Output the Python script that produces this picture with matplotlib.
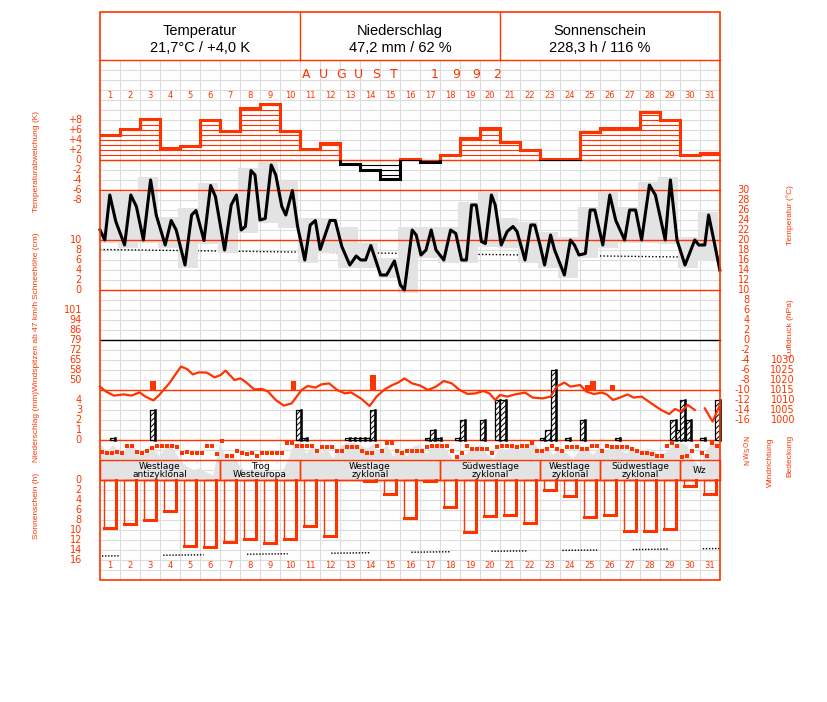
import numpy as np
import matplotlib
matplotlib.use('Agg')
import matplotlib.pyplot as plt
from matplotlib.patches import Rectangle
from matplotlib.transforms import blended_transform_factory

RED = '#ff3300'
GRID = '#dcdcdc'
SHADE = '#e3e3e3'

# ---------------- data (August 1992) ----------------
days = list(range(1, 32))

# daily temperature deviation (K)
temp_dev = [5.0, 6.2, 8.3, 2.5, 2.9, 8.1, 5.9, 10.5, 11.3, 5.8, 2.2, 3.5, -0.7, -2.0, -3.7, 0.3,
            -0.3, 1.1, 4.4, 6.4, 3.6, 2.1, 0.3, 0.3, 5.7, 6.5, 6.5, 9.6, 8.1, 1.1, 1.5]

# temperature course (time in days since 1 Aug 0h, degC)
temp_t = [0.00, 0.24, 0.49, 0.79, 1.23, 1.54, 1.82, 2.17, 2.53, 2.81, 3.26, 3.56, 3.81, 4.25, 4.58,
          4.80, 5.20, 5.53, 5.77, 6.23, 6.56, 6.82, 7.06, 7.27, 7.55, 7.75, 8.00, 8.26, 8.56, 8.79,
          9.09, 9.29, 9.62, 9.88, 10.24, 10.51, 10.77, 11.01, 11.50, 11.76, 12.09, 12.49, 12.81,
          13.04, 13.28, 13.54, 14.03, 14.33, 14.72, 15.02, 15.22, 15.61, 15.81, 16.05, 16.30, 16.56,
          16.80, 17.19, 17.53, 17.79, 18.08, 18.32, 18.58, 18.81, 19.07, 19.27, 19.57, 19.76, 20.06,
          20.36, 20.65, 20.85, 21.25, 21.54, 21.74, 22.00, 22.23, 22.53, 22.73, 23.22, 23.52, 23.72,
          23.95, 24.27, 24.51, 24.74, 25.14, 25.49, 25.79, 26.23, 26.48, 26.78, 27.08, 27.47, 27.77,
          28.26, 28.52, 28.85, 29.25, 29.74, 29.94, 30.24, 30.43, 30.69, 30.99]
temp_v = [22, 20, 29, 23.7, 19, 29, 26.7, 20, 32, 25, 19, 23.9, 22, 15, 25,
          25.9, 19.9, 30.9, 28.7, 18, 27, 29, 22, 22.7, 33.9, 33, 24, 24.3, 35, 33,
          26.7, 25, 29.9, 22.7, 16, 23, 23.9, 18.1, 23.9, 23.9, 18.7, 15, 16.8,
          16, 16, 18.9, 13, 13, 15.8, 11, 10, 22, 21, 17, 18, 22,
          18, 16, 22, 21.3, 16, 16, 27, 27, 19.7, 19.3, 29, 27, 19,
          21.7, 22.7, 21.7, 16, 23, 23, 19, 15, 21, 18, 13, 20, 19,
          17, 17.3, 26, 26, 19, 29, 23.9, 20, 26, 26, 20, 31, 29,
          20, 32, 20, 15, 20, 19, 19, 25, 20, 14]

# long-term mean temperature (dotted)
clim_t = [0, 31]
clim_v = [18.1, 16.5]

# air pressure (hPa), NaN = missing
pres_t = [0, 0.30, 0.69, 1.19, 1.58, 1.98, 2.27, 2.67, 2.96, 3.46, 3.75, 4.05, 4.35, 4.64, 4.94,
          5.34, 5.73, 6.03, 6.28, 6.72, 7.02, 7.31, 7.71, 8.10, 8.40, 8.79, 9.19, 9.58, 10.08,
          10.38, 10.77, 11.07, 11.46, 11.86, 12.25, 12.55, 13.04, 13.48, 13.83, 14.23, 14.62,
          14.92, 15.22, 15.61, 16.01, 16.40, 16.80, 17.19, 17.59, 17.98, 18.38, 18.77, 19.17,
          19.47, 19.76, 20.00, 20.36, 20.75, 21.25, 21.64, 22.13, 22.53, 22.83, 23.22, 23.52,
          24.01, 24.31, 24.70, 25.10, 25.34, 25.65, 25.99, 26.38, 26.68, 27.08, 27.57, 28.06,
          28.46, 28.75, 29.05, 29.39, 29.74, 29.90, 30.24, 30.63, 30.99]
pres_v = [1016.7, 1014.2, 1012.2, 1012.8, 1012.2, 1013.8, 1011.7, 1009.8, 1012.5, 1018.3, 1022.5,
          1026.7, 1025.5, 1022.8, 1023.8, 1023.7, 1021.3, 1022.5, 1024.7, 1020.0, 1020.8, 1018.8,
          1015.3, 1015.5, 1014.2, 1010.0, 1007.2, 1008.3, 1015.0, 1017.0, 1016.2, 1017.8, 1018.3,
          1015.0, 1013.3, 1013.8, 1010.8, 1007.0, 1011.7, 1015.3, 1017.5, 1018.8, 1020.8, 1018.3,
          1017.2, 1015.0, 1016.7, 1019.5, 1018.3, 1015.0, 1013.0, 1013.3, 1014.5, 1013.3, 1010.0,
          1012.5, 1011.7, 1012.8, 1013.7, 1011.2, 1010.8, 1011.7, 1016.7, 1018.7, 1016.7, 1017.5,
          1014.2, 1013.0, 1013.7, 1012.8, 1010.0, 1011.2, 1012.8, 1011.2, 1011.7, 1008.3, 1005.0,
          1003.0, 1005.5, 1004.2, 1007.5, 1005.0, np.nan, 1005.8, 999.2, 1007.5]

# wind gusts above 47 km/h (bar start in days, km/h)
gust_t = [2.51, 9.53, 13.50, 24.27, 24.51, 25.49]
gust_v = [50, 50, 54, 47, 50, 47]

# precipitation (bar start in days, mm)
rain_t = [0.49, 2.51, 9.78, 10.08, 12.25, 12.5, 12.75, 13.0, 13.25, 13.5, 16.25, 16.5, 16.78,
          17.75, 18.0, 19.0, 19.76, 20.02, 22.0, 22.27, 22.53, 23.26, 24.01, 25.75, 28.52,
          28.81, 29.01, 29.31, 30.0, 30.73]
rain_v = [0.2, 3.0, 3.0, 0.2, 0.2, 0.2, 0.2, 0.2, 0.2, 3.0, 0.2, 1.0, 0.2,
          0.2, 2.0, 2.0, 4.0, 4.0, 0.2, 1.0, 7.0, 0.2, 2.0, 0.2, 2.0,
          1.0, 4.0, 2.0, 0.2, 4.0]

# wind direction (deg), 4 obs per day
wind_dir = [205, 220, 220, 205, 220, 115, 115, 205, 220, 190, 155, 115, 115, 115, 115, 140,
            220, 205, 220, 220, 220, 115, 115, 240, 45, 265, 265, 190, 220, 240, 220, 265,
            220, 220, 220, 220, 220, 70, 70, 115, 115, 115, 115, 190, 140, 140, 140, 190,
            190, 140, 140, 140, 190, 220, 220, 115, 190, 70, 70, 190, 220, 190, 190,
            190, 190, 140, 115, 115, 115, 115, 190, 290, 220, 115, 165, 165, 165, 165, 220,
            140, 115, 115, 115, 140, 115, 115, 70, 190, 190, 165, 115, 165, 190, 140, 140,
            140, 165, 165, 115, 115, 190, 115, 140, 140, 140, 140, 165, 190, 220, 220, 240,
            265, 265, 115, 70, 115, 290, 265, 190, 115, 220, 265, 70, 115]

# cloud cover (octas), 3 obs per day
cloud = [7.4, 5.7, 7.0, 5.3, 6.3, 7.0, 4.7, 5.3, 6.3, 4.7, 7.0, 6.3, 4.0, 2.7, 2.0, 2.3, 1.5, 1.0,
         7.4, 4.0, 5.0, 2.7, 1.7, 2.3, 2.0, 2.0, 1.5, 1.0, 3.3, 7.0, 7.4, 5.3, 7.0, 5.3, 6.3, 4.3,
         6.7, 7.4, 7.4, 7.0, 6.3, 7.0, 5.3, 7.0, 4.7, 6.3, 4.7, 6.7,
         7.0, 5.3, 6.7, 7.4, 6.0, 4.0, 4.7, 5.3, 6.3, 7.0, 5.3, 4.3, 6.3, 6.0, 6.7, 6.0, 7.0, 7.4,
         6.0, 6.7, 5.0, 6.3, 5.3, 4.3, 6.0, 6.3, 5.0, 6.7, 5.7, 6.7, 6.0, 5.3, 6.7, 5.0, 6.3, 6.0,
         4.7, 5.7, 7.0, 7.4, 7.0, 4.0, 2.7, 6.0, 7.7, 7.4]

# large-scale weather types (label, first day edge, last day edge)
wx_types = [('Westlage\nantizyklonal', 0, 6), ('Trog\nWesteuropa', 6, 10),
            ('Westlage\nzyklonal', 10, 17), ('Südwestlage\nzyklonal', 17, 22),
            ('Westlage\nzyklonal', 22, 25), ('Südwestlage\nzyklonal', 25, 29), ('Wz', 29, 31)]

# daily sunshine duration (h)
sun_h = [9.5, 8.8, 8.0, 6.2, 13.1, 13.3, 12.3, 11.7, 12.6, 11.7, 9.2, 11.2, 0.0, 0.2, 2.8, 7.5,
         0.2, 5.4, 10.4, 7.2, 6.9, 8.5, 1.9, 3.2, 7.3, 6.9, 10.1, 10.1, 9.7, 1.1, 2.7]
sun_max_t = [0, 31]
sun_max_v = [15.2, 13.7]
sun_ref_segments = [(0.1, 1.0), (3.16, 5.18), (7.35, 9.39), (11.56, 13.5), (15.57, 17.49),
                    (19.57, 21.38), (23.12, 24.86), (26.64, 28.4), (30.14, 31.0)]

header = [('Temperatur', '21,7°C / +4,0 K'), ('Niederschlag', '47,2 mm / 62 %'),
          ('Sonnenschein', '228,3 h / 116 %')]
month_label = 'AUGUST'
year_label = '1992'

# ---------------- layout ----------------
plt.rcParams['font.family'] = 'DejaVu Sans'
plt.rcParams['hatch.linewidth'] = 0.7

W, H = 827, 702
X0, X1 = 100, 720

fig = plt.figure(figsize=(W / 100, H / 100), dpi=100)
cv = fig.add_axes([0, 0, 1, 1])
cv.set_xlim(0, W)
cv.set_ylim(H, 0)
cv.set_axis_off()


def scale(top, bot, v_top, v_bot):
    ax = fig.add_axes([X0 / W, 1 - bot / H, (X1 - X0) / W, (bot - top) / H])
    ax.set_xlim(0, 31)
    ax.set_ylim(v_bot, v_top)
    ax.set_axis_off()
    return ax.transData


tr_dev = scale(100, 200, 12, -8)
tr_temp = scale(190, 420, 30, -16)
tr_snow = scale(240, 290, 10, 0)
tr_wind = scale(310, 390, 100.8, 43.2)
tr_pres = scale(340, 430, 1040, 995)
tr_rain = scale(360, 440, 8, 0)
tr_dir = scale(438, 462, 0, 360)
tr_cloud = scale(440, 480, 8, 0)
tr_sun = scale(480, 560, 0, 16)
tr_dx = blended_transform_factory(tr_temp, cv.transData)   # x in days, y in px


def ylab(tr):
    return blended_transform_factory(cv.transData, tr)


# grid
for y in range(70, 580, 10):
    cv.plot([X0, X1], [y, y], color=GRID, lw=0.8, zorder=1)
for x in range(X0 + 20, X1, 20):
    cv.plot([x, x], [60, 580], color=GRID, lw=0.8, zorder=1)

# header
for i, (a, b) in enumerate(header):
    xc = 200 + 200 * i
    cv.text(xc, 31, a, ha='center', va='center', fontsize=10.5, family='Liberation Sans')
    cv.text(xc, 48, b, ha='center', va='center', fontsize=10.5, family='Liberation Sans')
for x in (300, 500):
    cv.plot([x, x], [12, 60], color=RED, lw=1, zorder=6)
for i, ch in enumerate(month_label):
    cv.text(306 + 17.6 * i, 74, ch, ha='center', va='center', fontsize=9, color=RED)
for i, ch in enumerate(year_label):
    cv.text(435 + 20.7 * i, 74, ch, ha='center', va='center', fontsize=9, color=RED)
for d in days:
    cv.text(d - 0.5, 95, str(d), transform=tr_dx, ha='center', va='center', fontsize=6, color=RED)
    cv.text(d - 0.5, 565, str(d), transform=tr_dx, ha='center', va='center', fontsize=6, color=RED)

# red reference lines
for y in (60, 160, 190, 240, 290, 390, 440, 480):
    cv.plot([X0, X1], [y, y], color=RED, lw=1, zorder=3)
cv.plot([0, 31], [0, 0], color='black', lw=1, transform=tr_temp, zorder=3)

# temperature deviation
for i, v in enumerate(temp_dev):
    col = RED if v > 0 else 'black'
    k = 1
    while k < abs(v):
        lvl = k * np.sign(v)
        cv.plot([i, i + 1], [lvl, lvl], color=col, lw=0.8, transform=tr_dev, zorder=3)
        k += 1
sx = np.repeat(np.arange(32), 2)[1:-1]
sy = np.repeat(temp_dev, 2)
ln, = cv.plot(sx, sy, color=RED, lw=2.2, transform=tr_dev, zorder=4, solid_joinstyle='miter')
ln.set_clip_path(Rectangle((0, 0), 31, 14, transform=tr_dev))
ln, = cv.plot(sx, sy, color='black', lw=2.2, transform=tr_dev, zorder=4, solid_joinstyle='miter')
ln.set_clip_path(Rectangle((0, -10), 31, 10, transform=tr_dev))

# temperature: climate line, daily range boxes, course
cv.plot(clim_t, clim_v, color='black', lw=1, ls=(0, (1, 1.5)), transform=tr_temp, zorder=1.5)
fine_t = np.linspace(0, 31, 3101)
fine_v = np.interp(fine_t, temp_t, temp_v)
box_edges = np.r_[0, np.arange(0.88, 31, 1), 31]
for a, b in zip(box_edges[:-1], box_edges[1:]):
    m = (fine_t >= a) & (fine_t <= b)
    lo, hi = fine_v[m].min() - 0.6, fine_v[m].max() + 0.6
    cv.add_patch(Rectangle((a, lo), b - a, hi - lo, fc=SHADE, ec='none', transform=tr_temp, zorder=2))
cv.plot(temp_t, temp_v, color='black', lw=2.2, transform=tr_temp, zorder=5)

# gusts
for t, v in zip(gust_t, gust_v):
    cv.add_patch(Rectangle((t, 43.2), 0.28, v - 43.2, fc=RED, ec='none', transform=tr_wind, zorder=4))

# pressure
cv.plot(pres_t, pres_v, color=RED, lw=1.6, transform=tr_pres, zorder=5)

# precipitation
for t, v in zip(rain_t, rain_v):
    cv.add_patch(Rectangle((t, 0), 0.26, v, fc='white', ec='black', hatch='//////', lw=0.9,
                           transform=tr_rain, zorder=4))
    cv.plot([t + 0.26, t + 0.26], [0, v], color='black', lw=1.8, transform=tr_rain, zorder=4)

# cloud cover and wind direction
cloud_t = np.arange(len(cloud)) / 3
cv.fill(np.r_[0, cloud_t, 31], np.r_[0, cloud, 0], color=SHADE, lw=0, transform=tr_cloud, zorder=2)
dir_t = 0.1 + np.arange(len(wind_dir)) / 4
cv.plot(dir_t, wind_dir, 's', color=RED, ms=2.2, mew=0, transform=tr_dir, zorder=5)

# weather types
for lab, a, b in wx_types:
    cv.add_patch(Rectangle((a, 460), b - a, 20, fill=False, ec=RED, lw=1, transform=tr_dx, zorder=5))
    cv.text((a + b) / 2, 470.5, lab, transform=tr_dx, ha='center', va='center', fontsize=6.5,
            linespacing=0.95, zorder=6)

# sunshine
for d, h in zip(days, sun_h):
    if h <= 0:
        continue
    a, b = d - 0.8, d - 0.2
    cv.add_patch(Rectangle((a, 0), b - a, h, fill=False, ec=RED, lw=1, transform=tr_sun, zorder=4))
    cv.plot([b, b, a], [0, h, h], color=RED, lw=2.2, transform=tr_sun, zorder=4,
            solid_joinstyle='miter')
for a, b in sun_ref_segments:
    cv.plot([a, b], np.interp([a, b], sun_max_t, sun_max_v), color='black', lw=1,
            ls=(0, (1, 1.2)), transform=tr_sun, zorder=3)

# frame
cv.add_patch(Rectangle((X0, 12), X1 - X0, 568, fill=False, ec=RED, lw=1.2, zorder=7))

# axis labels (left)
tick_kw = dict(fontsize=7, color=RED, va='center')
for v in range(8, -9, -2):
    s = ('+%d' % v) if v > 0 else str(v)
    cv.text(82, v, s, transform=ylab(tr_dev), ha='right', **tick_kw)
for v in range(10, -1, -2):
    cv.text(82, v, str(v), transform=ylab(tr_snow), ha='right', **tick_kw)
for ms in range(14, 29, 2):
    cv.text(82, ms * 3.6, str(round(ms * 3.6)), transform=ylab(tr_wind), ha='right', **tick_kw)
for v in range(0, 5):
    cv.text(82, v, str(v), transform=ylab(tr_rain), ha='right', **tick_kw)
for v in range(0, 17, 2):
    cv.text(82, v, str(v), transform=ylab(tr_sun), ha='right', **tick_kw)

# axis labels (right)
for v in range(30, -17, -2):
    cv.text(750, v, str(v), transform=ylab(tr_temp), ha='right', **tick_kw)
for v in range(1030, 999, -5):
    cv.text(795, v, str(v), transform=ylab(tr_pres), ha='right', **tick_kw)
for v, s in zip([0, 90, 180, 270, 360], ['N', 'O', 'S', 'W', 'N']):
    cv.text(747, v, s, transform=ylab(tr_dir), ha='center', va='center', fontsize=5,
            color=RED, rotation=90)

title_kw = dict(rotation=90, ha='center', va='center', color=RED, fontsize=6,
                family='Liberation Sans')
for s, y in [('Temperaturabweichung (K)', 161), ('Schneehöhe (cm)', 266),
             ('Windspitzen ab 47 km/h', 346), ('Niederschlag (mm)', 427),
             ('Sonnenschein (h)', 506)]:
    cv.text(37, y, s, **title_kw)
for s, x, y in [('Temperatur (°C)', 790, 215), ('Luftdruck (hPa)', 790, 328),
                ('Windrichtung', 770, 462), ('Bedeckung', 790, 456)]:
    cv.text(x, y, s, **title_kw)

fig.savefig('out.png', dpi=100)
